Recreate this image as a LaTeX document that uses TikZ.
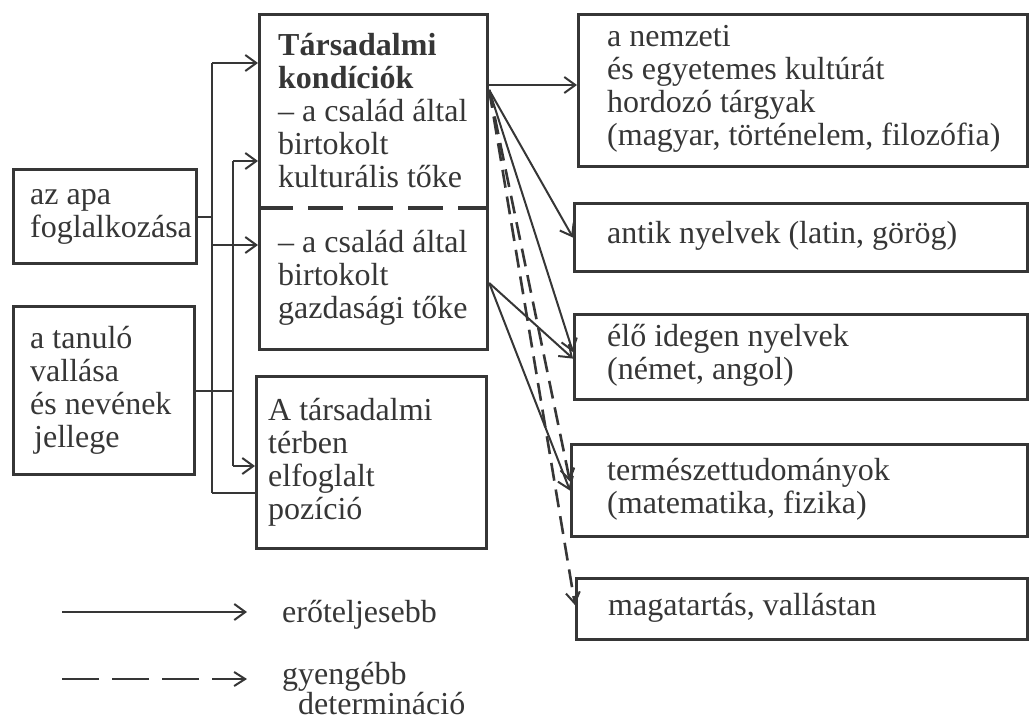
\documentclass[tikz,border=0pt]{standalone}
\usepackage{fontspec}
\setmainfont{Liberation Serif}
\usetikzlibrary{arrows.meta}
\definecolor{ink}{HTML}{363636}
\begin{document}
\begin{tikzpicture}[x=1pt,y=-1pt,
  box/.style={draw=ink, line width=3.2pt, inner sep=0pt, anchor=north west},
  txt/.style={text=ink, font=\fontsize{32}{33}\selectfont, align=left, inner sep=0pt, anchor=west},
  conn/.style={draw=ink, line width=2pt},
  arr/.style={conn, -{Straight Barb[length=11pt,width=16pt,line width=2pt]}},
  weak/.style={draw=ink, line width=2.6pt, dash pattern=on 18pt off 9pt, -{Straight Barb[length=11pt,width=14pt,line width=2pt]}},
  divider/.style={draw=ink, line width=3.2pt, dash pattern=on 35pt off 15pt},
]
\useasboundingbox (0,0) rectangle (1029,724);

% left boxes
\node[box, minimum width=183pt, minimum height=94pt] (apa) at (12,168) {};
\node[txt] (apaT) at ([xshift=18pt]apa.west) {az apa\\foglalkozása};
\node[box, minimum width=181pt, minimum height=168pt] (tan) at (12,305) {};
\node[txt] (tanT) at ([xshift=18pt]tan.west) {a tanuló\\vallása\\és nevének\\\hspace*{4pt}jellege};

% middle boxes
\node[box, minimum width=228pt, minimum height=335pt] (soc) at (258,13) {};
\path (soc.north west) ++(0,195) coordinate (divL);
\path (soc.north east) ++(0,195) coordinate (divR);
\draw[divider] (divL) -- (divR);
\node[txt] (kultT) at (278,110.5) {\textbf{Társadalmi}\\\textbf{kondíciók}\\– a család által\\birtokolt\\kulturális tőke};
\node[txt] (gazdT) at (278,278) {– a család által\\birtokolt\\gazdasági tőke};
\node[box, minimum width=230pt, minimum height=172pt] (pos) at (255,375) {};
\node[txt] (posT) at ([xshift=13pt]pos.west) {A társadalmi\\térben\\elfoglalt\\pozíció};

% right boxes
\node[box, minimum width=449pt, minimum height=152pt] (r1) at (577,13) {};
\node[txt] (r1T) at (607,89) {a nemzeti\\és egyetemes kultúrát\\hordozó tárgyak\\(magyar, történelem, filozófia)};
\node[box, minimum width=453pt, minimum height=68pt] (r2) at (573,202) {};
\node[txt] (r2T) at (607,236) {antik nyelvek (latin, görög)};
\node[box, minimum width=453pt, minimum height=85pt] (r3) at (573,313) {};
\node[txt] (r3T) at (607,355.5) {élő idegen nyelvek\\(német, angol)};
\node[box, minimum width=456pt, minimum height=92pt] (r4) at (570,443) {};
\node[txt] (r4T) at (607,489) {természettudományok\\(matematika, fizika)};
\node[box, minimum width=451pt, minimum height=61pt] (r5) at (575,577) {};
\node[txt] (r5T) at (608,607.5) {magatartás, vallástan};

% left connectors
\coordinate (aTop) at (212,63);
\coordinate (aMid) at (212,245);
\coordinate (aBot) at (212,493);
\coordinate (bTop) at (233,161);
\coordinate (bBot) at (233,466);
\draw[conn] (apa.east) -- (apa.east -| aTop);
\draw[conn] (aTop) -- (aBot);
\draw[arr] (aTop) -- (soc.west |- aTop);
\draw[arr] (aMid) -- (soc.west |- aMid);
\draw[conn] (aBot) -- (pos.west |- aBot);
\draw[conn] (tan.east) -- (tan.east -| bTop);
\draw[conn] (bTop) -- (bBot);
\draw[arr] (bTop) -- (soc.west |- bTop);
\draw[arr] (bBot) -- (pos.west |- bBot);

% right connectors
\coordinate (o1) at ([yshift=-77pt]soc.north east);
\coordinate (o2) at ([yshift=-270pt]soc.north east);
\draw[arr] ([yshift=-72pt]soc.north east) -- ([yshift=-72pt]r1.north west);
\draw[arr] (o1) -- (r2.west);
\draw[arr] (o1) -- ([yshift=5pt]r3.west);
\draw[weak] (o1) -- ([yshift=9pt]r4.west);
\draw[weak] (o1) -- ([yshift=4pt]r5.west);
\draw[arr] (o2) -- ([yshift=-1.5pt]r3.west);
\draw[arr] (o2) -- (r4.west);

% legend
\coordinate (s1) at (62,612);
\coordinate (e1) at (247,612);
\draw[arr, line width=2.2pt] (s1) -- (e1);
\node[txt, anchor=base west] (leg1) at (282,622) {erőteljesebb};
\coordinate (s2) at (62,679);
\coordinate (e2) at (247,679);
\draw[weak, dash pattern=on 37pt off 13pt] (s2) -- (e2);
\node[txt, anchor=base west] (leg2) at (282,684) {gyengébb};
\node[txt, anchor=base west] (leg3) at (298,714) {determináció};
\end{tikzpicture}
\end{document}
